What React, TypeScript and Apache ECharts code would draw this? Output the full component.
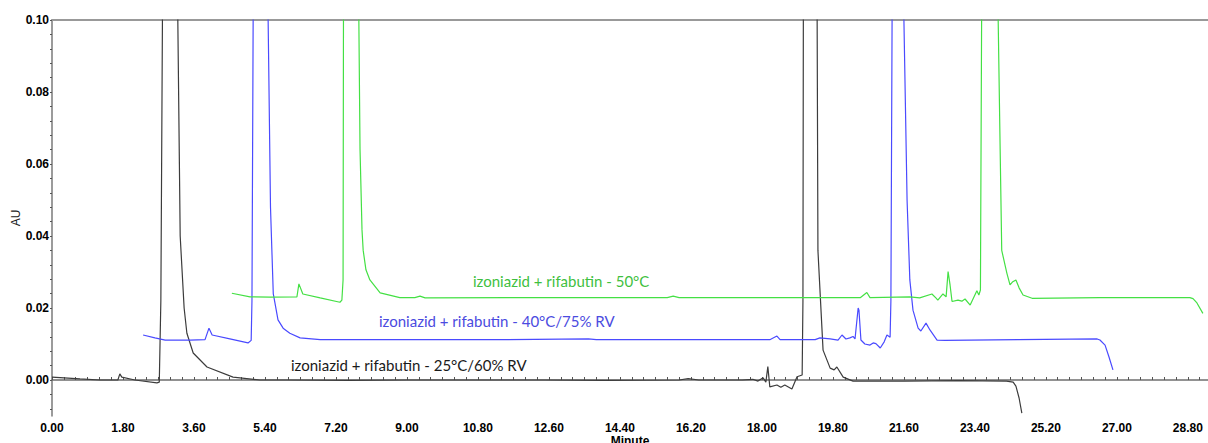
import React, { useEffect, useRef } from "react";
import * as echarts from "echarts";

// Tick labels
const xTickLabels = ["0.00", "1.80", "3.60", "5.40", "7.20", "9.00", "10.80", "12.60", "14.40", "16.20", "18.00", "19.80", "21.60", "23.40", "25.20", "27.00", "28.80"];
const yTickLabels = ["0.00", "0.02", "0.04", "0.06", "0.08", "0.10"];

// Trace names
const traceNames = [
  "izoniazid + rifabutin - 25°C/60% RV",
  "izoniazid + rifabutin - 40°C/75% RV",
  "izoniazid + rifabutin - 50°C",
];

// 25°C/60% RV trace [minute, AU] (off-scale apex values estimated)
const blackTrace: [number, number][] = [
  [0.0, 0.0008], [0.71, 0.0003], [1.22, 0.0], [1.67, 0.0], [1.72, 0.0017], [1.77, 0.0008], [2.1, 0.0],
  [2.66, -0.0008], [2.72, -0.0006], [2.76, 0.022], [2.8, 0.1], [2.99, 0.45], [3.19, 0.1], [3.23, 0.06],
  [3.25, 0.04], [3.35, 0.02], [3.42, 0.013], [3.58, 0.0075], [3.93, 0.0036], [4.59, 0.0008], [5.27, 0.0],
  [6.0, 0.0], [7.5, -0.0001], [9.0, 0.0], [10.8, 0.0], [12.5, 0.0], [14.0, -0.0001], [15.9, 0.0],
  [16.13, 0.0004], [16.4, 0.0], [17.5, 0.0], [17.77, 0.0002], [17.9, -0.0003], [18.03, 0.0006],
  [18.1, -0.0006], [18.15, 0.0037], [18.2, -0.0019], [18.38, -0.0014], [18.48, -0.002], [18.58, -0.0014],
  [18.76, -0.0025], [18.89, 0.0009], [19.02, 0.0014], [19.04, 0.022], [19.05, 0.1], [19.22, 0.45],
  [19.4, 0.1], [19.42, 0.036], [19.55, 0.0083], [19.73, 0.0033], [19.83, 0.0028], [19.9, 0.0036],
  [20.06, 0.0008], [20.31, -0.0003], [21.6, -0.0003], [23.0, -0.0002], [24.2, -0.0003], [24.37, -0.0006],
  [24.44, -0.0017], [24.52, -0.005], [24.59, -0.0092],
];

// 40°C/75% RV trace
const blueTrace: [number, number][] = [
  [2.31, 0.0125], [2.61, 0.0117], [2.87, 0.0111], [3.5, 0.0111], [3.88, 0.0112], [3.98, 0.0144],
  [4.06, 0.0125], [4.51, 0.0114], [4.97, 0.0103], [5.05, 0.011], [5.07, 0.022], [5.1, 0.1], [5.29, 0.45],
  [5.48, 0.1], [5.54, 0.048], [5.61, 0.024], [5.73, 0.0167], [5.86, 0.0144], [6.03, 0.013], [6.29, 0.0117],
  [6.8, 0.0112], [9.0, 0.0112], [11.5, 0.0112], [13.6, 0.0114], [13.8, 0.0112], [16.0, 0.0112],
  [18.2, 0.0112], [18.38, 0.0122], [18.46, 0.0112], [19.35, 0.0112], [19.47, 0.0117], [19.73, 0.0114],
  [19.93, 0.0111], [20.03, 0.0125], [20.13, 0.0114], [20.23, 0.0117], [20.31, 0.0121], [20.36, 0.0114],
  [20.44, 0.02], [20.46, 0.0194], [20.51, 0.0111], [20.61, 0.01], [20.74, 0.0097], [20.82, 0.0103],
  [20.89, 0.0101], [21.0, 0.0089], [21.1, 0.0106], [21.17, 0.0125], [21.25, 0.0119], [21.27, 0.022],
  [21.3, 0.1], [21.45, 0.45], [21.6, 0.1], [21.68, 0.05], [21.75, 0.0278], [21.83, 0.0194], [21.96, 0.0144],
  [22.03, 0.0136], [22.16, 0.0158], [22.26, 0.0139], [22.44, 0.0111], [22.64, 0.011], [24.5, 0.0112],
  [26.5, 0.0114], [26.57, 0.0111], [26.7, 0.0097], [26.8, 0.0064], [26.9, 0.0028],
];

// 50°C trace
const greenTrace: [number, number][] = [
  [4.56, 0.0241], [5.02, 0.0231], [5.53, 0.023], [6.21, 0.0231], [6.26, 0.0267], [6.36, 0.0239],
  [6.8, 0.0228], [7.3, 0.0216], [7.35, 0.0222], [7.38, 0.0278], [7.39, 0.1], [7.58, 0.45], [7.78, 0.1],
  [7.81, 0.064], [7.86, 0.0417], [7.89, 0.036], [7.96, 0.0306], [8.06, 0.0278], [8.32, 0.0242],
  [8.82, 0.0229], [9.2, 0.0229], [9.33, 0.0233], [9.46, 0.0228], [12.0, 0.0229], [15.6, 0.0229],
  [15.75, 0.0233], [15.9, 0.0229], [20.5, 0.0229], [20.66, 0.0243], [20.74, 0.0229], [21.75, 0.0231],
  [22.0, 0.0228], [22.31, 0.0239], [22.41, 0.0228], [22.46, 0.0222], [22.59, 0.0239], [22.67, 0.0231],
  [22.72, 0.0301], [22.77, 0.0264], [22.82, 0.0218], [22.97, 0.0222], [23.07, 0.0219], [23.15, 0.0225],
  [23.28, 0.0208], [23.45, 0.0248], [23.5, 0.0236], [23.54, 0.025], [23.57, 0.1], [23.78, 0.45],
  [23.99, 0.1], [24.04, 0.064], [24.08, 0.036], [24.21, 0.0297], [24.29, 0.0264], [24.35, 0.0272],
  [24.44, 0.0278], [24.52, 0.0256], [24.62, 0.0236], [24.85, 0.0227], [26.57, 0.0229], [28.85, 0.0229],
  [28.93, 0.0226], [29.03, 0.0214], [29.18, 0.0185],
];

const traceColors = ["#3c3c3c", "#4a4aff", "#44e044"];
const labelColors = ["#1a1a1a", "#4b4be0", "#3fbf3f"];

export default function App() {
  const ref = useRef<HTMLDivElement>(null);
  useEffect(() => {
    document.body.style.margin = "0";
    const chart = echarts.init(ref.current!, null, { renderer: "svg" });

    const xLabelValues = xTickLabels.map((s) => parseFloat(s));
    const yLabelValues = yTickLabels.map((s) => parseFloat(s));
    const xMinor: number[] = [];
    for (let i = 0; i <= 97; i++) xMinor.push(+(i * 0.3).toFixed(2));
    const yMinor: number[] = [];
    for (let i = -2; i <= 25; i++) yMinor.push(+(i * 0.004).toFixed(3));

    const tickFont = { color: "#000", fontWeight: "bold" as const, fontSize: 12, fontFamily: "Liberation Sans, Arial, sans-serif" };
    const series = [blackTrace, blueTrace, greenTrace].map((d, i) => ({
      type: "line",
      name: traceNames[i],
      data: d,
      showSymbol: false,
      symbol: "none",
      clip: true,
      lineStyle: { color: traceColors[i], width: 1.2 },
      itemStyle: { color: traceColors[i] },
      z: 2 + i,
    }));

    const labelPos = [
      { x: 291, y: 365 },
      { x: 379, y: 321 },
      { x: 473, y: 281 },
    ];

    chart.setOption({
      animation: false,
      backgroundColor: "#fff",
      grid: { left: 52, right: 0, top: 20, bottom: 27, containLabel: false, outerBoundsMode: "none" },
      xAxis: [
        {
          type: "value",
          min: 0,
          max: 29.31,
          position: "bottom",
          axisLine: { show: true, lineStyle: { color: "#6e6e6e", width: 1.5 } },
          axisTick: { show: true, inside: true, length: 3, customValues: xMinor, lineStyle: { color: "#555" } },
          axisLabel: { customValues: xLabelValues, formatter: (v: number) => v.toFixed(2), margin: 6, ...tickFont },
          splitLine: { show: false },
          name: "Minute",
          nameLocation: "middle",
          nameGap: 19,
          nameMoveOverlap: false,
          nameTextStyle: { ...tickFont },
        },
        {
          type: "value",
          min: 0,
          max: 29.31,
          position: "top",
          axisLine: { show: true, lineStyle: { color: "#999", width: 2 } },
          axisTick: { show: false },
          axisLabel: { show: false },
          splitLine: { show: false },
        },
      ],
      yAxis: {
        type: "value",
        min: -0.01,
        max: 0.1,
        axisLine: { show: true, lineStyle: { color: "#7a7a7a", width: 1.5 } },
        axisTick: { show: true, length: 2, customValues: yMinor, lineStyle: { color: "#555" } },
        axisLabel: { customValues: yLabelValues, formatter: (v: number) => v.toFixed(2), margin: 3, ...tickFont },
        splitLine: { show: false },
        name: "AU",
        nameLocation: "middle",
        nameGap: 30,
        nameMoveOverlap: false,
        nameTextStyle: { color: "#222", fontSize: 12, fontFamily: "Liberation Sans, Arial, sans-serif" },
      },
      series,
      graphic: traceNames.map((t, i) => ({
        type: "text",
        x: labelPos[i].x,
        y: labelPos[i].y,
        z: 10,
        style: {
          text: t,
          fill: labelColors[i],
          fontSize: 15,
          fontFamily: "Lato, sans-serif",
          verticalAlign: "middle",
        },
      })),
    });
    return () => chart.dispose();
  }, []);
  return <div ref={ref} style={{ position: "absolute", left: 0, top: 0, width: 1208, height: 443 }} />;
}
